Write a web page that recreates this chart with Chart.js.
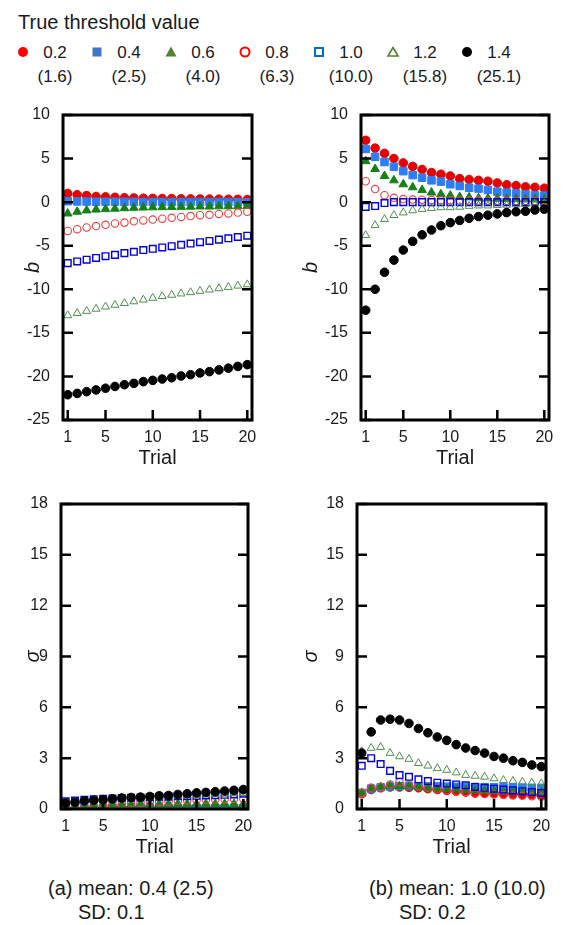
<!DOCTYPE html>
<html>
<head>
<meta charset="utf-8">
<script src="https://cdn.jsdelivr.net/npm/chart.js@4.4.1/dist/chart.umd.min.js"></script>
<style>
  body {
    margin: 0;
    width: 588px;
    height: 925px;
    background: #fff;
    position: relative;
    overflow: hidden;
    font-family: "Liberation Sans", Arial, sans-serif;
    color: #1a1a1a;
  }
  .panel { position: absolute; }
  .txt { position: absolute; white-space: nowrap; line-height: 1; }
  .leg { position: absolute; width: 60px; text-align: center; font-size: 17px; line-height: 1; }
  .mark { position: absolute; width: 14px; height: 14px; }
</style>
</head>
<body>

<div class="txt" style="left:18px;top:12px;font-size:20px;">True threshold value</div>
<div id="legend"></div>

<div class="panel" style="left:0;top:95px;"><canvas id="bA" width="290" height="380"></canvas></div>
<div class="panel" style="left:290px;top:95px;"><canvas id="bB" width="298" height="380"></canvas></div>
<div class="panel" style="left:0;top:484px;"><canvas id="sA" width="290" height="380"></canvas></div>
<div class="panel" style="left:290px;top:484px;"><canvas id="sB" width="298" height="380"></canvas></div>

<div class="txt" style="left:48px;top:878px;font-size:20px;">(a) mean: 0.4 (2.5)</div>
<div class="txt" style="left:78px;top:902px;font-size:20px;">SD: 0.1</div>
<div class="txt" style="left:369px;top:878px;font-size:20px;">(b) mean: 1.0 (10.0)</div>
<div class="txt" style="left:399px;top:902px;font-size:20px;">SD: 0.2</div>

<script>
// trials and legend labels
const trials = [1, 2, 3, 4, 5, 6, 7, 8, 9, 10, 11, 12, 13, 14, 15, 16, 17, 18, 19, 20];
const thresholds = ["0.2", "0.4", "0.6", "0.8", "1.0", "1.2", "1.4"];
const thresholdsLin = ["(1.6)", "(2.5)", "(4.0)", "(6.3)", "(10.0)", "(15.8)", "(25.1)"];
const xTicks = [1, 5, 10, 15, 20];

// (a) b estimates
const bA02 = [1.0, 0.85, 0.75, 0.65, 0.6, 0.55, 0.5, 0.48, 0.45, 0.43, 0.42, 0.4, 0.38, 0.37, 0.36, 0.35, 0.34, 0.33, 0.32, 0.3];
const bA04 = [0.1, 0.08, 0.07, 0.06, 0.05, 0.05, 0.04, 0.04, 0.03, 0.03, 0.03, 0.02, 0.02, 0.02, 0.02, 0.01, 0.01, 0.01, 0.0, 0.0];
const bA06 = [-1.3, -1.1, -0.95, -0.85, -0.8, -0.75, -0.7, -0.65, -0.62, -0.6, -0.58, -0.56, -0.54, -0.52, -0.5, -0.5, -0.48, -0.47, -0.46, -0.45];
const bA08 = [-3.3, -3.1, -2.9, -2.75, -2.6, -2.45, -2.35, -2.2, -2.1, -2.0, -1.9, -1.8, -1.7, -1.6, -1.5, -1.45, -1.35, -1.3, -1.2, -1.1];
const bA10 = [-7.0, -6.8, -6.6, -6.4, -6.2, -6.05, -5.85, -5.7, -5.5, -5.35, -5.2, -5.05, -4.9, -4.75, -4.6, -4.45, -4.3, -4.15, -4.0, -3.85];
const bA12 = [-13.0, -12.75, -12.5, -12.25, -12.0, -11.8, -11.6, -11.4, -11.2, -11.0, -10.8, -10.65, -10.5, -10.35, -10.2, -10.05, -9.9, -9.75, -9.6, -9.45];
const bA14 = [-22.1, -21.95, -21.75, -21.55, -21.35, -21.15, -20.95, -20.8, -20.6, -20.45, -20.3, -20.15, -19.95, -19.8, -19.6, -19.45, -19.25, -19.05, -18.85, -18.65];

// (b) b estimates
const bB02 = [7.1, 6.2, 5.6, 5.0, 4.5, 4.1, 3.75, 3.4, 3.2, 3.0, 2.7, 2.6, 2.5, 2.4, 2.2, 2.0, 1.9, 1.75, 1.7, 1.6];
const bB04 = [6.1, 5.2, 4.6, 4.05, 3.55, 3.1, 2.8, 2.5, 2.35, 2.05, 1.85, 1.65, 1.55, 1.4, 1.2, 1.1, 1.0, 0.9, 0.8, 0.75];
const bB06 = [4.7, 3.8, 3.0, 2.5, 2.05, 1.7, 1.4, 1.1, 0.9, 0.75, 0.6, 0.55, 0.45, 0.42, 0.4, 0.38, 0.35, 0.33, 0.32, 0.3];
const bB08 = [2.4, 1.5, 0.8, 0.5, 0.35, 0.3, 0.28, 0.25, 0.23, 0.22, 0.2, 0.19, 0.18, 0.17, 0.16, 0.15, 0.14, 0.13, 0.12, 0.1];
const bB10 = [-0.55, -0.45, -0.1, 0.0, 0.0, 0.0, 0.0, 0.0, 0.0, 0.0, 0.0, 0.0, 0.0, 0.0, 0.0, 0.0, 0.0, 0.0, 0.0, 0.0];
const bB12 = [-3.8, -2.65, -1.95, -1.5, -1.2, -0.95, -0.8, -0.7, -0.6, -0.6, -0.55, -0.45, -0.4, -0.4, -0.35, -0.32, -0.27, -0.24, -0.2, -0.15];
const bB14 = [-12.4, -10.0, -8.05, -6.65, -5.5, -4.5, -3.75, -3.2, -2.7, -2.35, -2.1, -1.85, -1.65, -1.5, -1.35, -1.2, -1.1, -1.05, -0.9, -0.8];

// (a) sigma estimates
const sA02 = [0.02, 0.02, 0.03, 0.03, 0.04, 0.04, 0.05, 0.05, 0.05, 0.05, 0.05, 0.05, 0.05, 0.05, 0.05, 0.05, 0.05, 0.05, 0.05, 0.05];
const sA04 = [0.05, 0.06, 0.06, 0.07, 0.07, 0.07, 0.07, 0.07, 0.07, 0.07, 0.07, 0.07, 0.07, 0.07, 0.07, 0.07, 0.07, 0.07, 0.07, 0.07];
const sA06 = [0.15, 0.18, 0.2, 0.22, 0.24, 0.26, 0.28, 0.28, 0.29, 0.29, 0.3, 0.3, 0.3, 0.3, 0.3, 0.3, 0.3, 0.3, 0.3, 0.3];
const sA08 = [0.05, 0.05, 0.1, 0.15, 0.2, 0.25, 0.3, 0.33, 0.36, 0.4, 0.42, 0.45, 0.48, 0.5, 0.52, 0.54, 0.56, 0.58, 0.6, 0.6];
const sA10 = [0.45, 0.5, 0.55, 0.58, 0.6, 0.62, 0.65, 0.66, 0.68, 0.7, 0.72, 0.73, 0.75, 0.76, 0.78, 0.8, 0.82, 0.84, 0.86, 0.9];
const sA12 = [0.4, 0.45, 0.5, 0.54, 0.57, 0.6, 0.63, 0.66, 0.68, 0.7, 0.73, 0.75, 0.78, 0.8, 0.83, 0.85, 0.87, 0.9, 0.92, 0.95];
const sA14 = [0.35, 0.4, 0.48, 0.52, 0.55, 0.6, 0.65, 0.68, 0.7, 0.74, 0.78, 0.8, 0.86, 0.9, 0.95, 0.98, 1.02, 1.06, 1.1, 1.15];

// (b) sigma estimates
const sB02 = [0.9, 1.15, 1.25, 1.3, 1.3, 1.28, 1.25, 1.2, 1.15, 1.1, 1.05, 1.0, 0.97, 0.94, 0.92, 0.9, 0.88, 0.86, 0.84, 0.82];
const sB04 = [0.95, 1.2, 1.28, 1.33, 1.35, 1.35, 1.35, 1.34, 1.33, 1.32, 1.31, 1.3, 1.3, 1.29, 1.28, 1.28, 1.27, 1.26, 1.25, 1.25];
const sB06 = [0.95, 1.2, 1.3, 1.35, 1.35, 1.33, 1.3, 1.25, 1.2, 1.17, 1.15, 1.12, 1.1, 1.08, 1.06, 1.04, 1.02, 1.0, 0.98, 0.96];
const sB08 = [0.95, 1.25, 1.3, 1.45, 1.6, 1.45, 1.35, 1.25, 1.2, 1.1, 1.05, 1.0, 0.9, 0.88, 0.86, 0.82, 0.8, 0.78, 0.75, 0.72];
const sB10 = [2.55, 3.0, 2.65, 2.25, 2.0, 1.9, 1.75, 1.65, 1.55, 1.5, 1.45, 1.4, 1.3, 1.25, 1.2, 1.15, 1.1, 1.05, 1.0, 0.95];
const sB12 = [3.4, 3.6, 3.65, 3.3, 3.1, 2.95, 2.7, 2.55, 2.4, 2.3, 2.15, 2.0, 1.95, 1.9, 1.8, 1.7, 1.65, 1.6, 1.55, 1.5];
const sB14 = [3.3, 4.55, 5.25, 5.3, 5.25, 5.05, 4.75, 4.5, 4.25, 4.05, 3.8, 3.6, 3.45, 3.3, 3.1, 3.0, 2.85, 2.75, 2.6, 2.5];

// marker look for each threshold
const styles = ["circle", "rect", "triangle", "circle", "rect", "triangle", "circle"];
const filled = [true, true, true, false, false, false, true];
const plotColors = ["#e60000", "#2f7df2", "#168016", "#f03c3c", "#0000e0", "#4e8f4e", "#000000"];
const legendColors = ["#ff0000", "#4472c4", "#548235", "#ff0000", "#0070c0", "#548235", "#000000"];
const radii = [4.3, 5.3, 5, 3.7, 4.7, 4.6, 4.3];
const borders = [1, 1, 1, 1.1, 1.4, 1, 1];

Chart.defaults.font.family = "'Liberation Sans', Arial, sans-serif";
Chart.defaults.color = "#1a1a1a";

// legend (html)
const legend = document.getElementById("legend");
thresholds.forEach((t, i) => {
  const mx = 23 + i * 74;
  const c = legendColors[i];
  let shape;
  if (styles[i] === "circle") {
    shape = filled[i] ? `<circle cx="7" cy="7" r="5" fill="${c}"/>` : `<circle cx="7" cy="7" r="4.5" fill="none" stroke="${c}" stroke-width="2"/>`;
  } else if (styles[i] === "rect") {
    shape = filled[i] ? `<rect x="2.5" y="2.5" width="9" height="9" fill="${c}"/>` : `<rect x="3" y="3" width="8" height="8" fill="none" stroke="${c}" stroke-width="2"/>`;
  } else {
    shape = filled[i] ? `<polygon points="7,1.5 12.5,11.5 1.5,11.5" fill="${c}"/>` : `<polygon points="7,2.5 12,11 2,11" fill="none" stroke="${c}" stroke-width="1.6"/>`;
  }
  legend.insertAdjacentHTML("beforeend",
    `<svg class="mark" style="left:${mx - 7}px;top:45px" viewBox="0 0 14 14">${shape}</svg>` +
    `<div class="leg" style="left:${mx + 2}px;top:44px">${t}</div>` +
    `<div class="leg" style="left:${mx + 2}px;top:68px">${thresholdsLin[i]}</div>`);
});

// frame with inward tick marks
const framePlugin = {
  id: "frame",
  afterDatasetsDraw(chart) {
    const { ctx, chartArea: a, scales: { x, y } } = chart;
    ctx.save();
    ctx.strokeStyle = "#000";
    ctx.lineWidth = 3;
    ctx.strokeRect(a.left, a.top, a.right - a.left, a.bottom - a.top);
    ctx.lineWidth = 2.5;
    ctx.beginPath();
    y.ticks.forEach(t => {
      const py = y.getPixelForValue(t.value);
      ctx.moveTo(a.left, py); ctx.lineTo(a.left + 10, py);
      ctx.moveTo(a.right, py); ctx.lineTo(a.right - 10, py);
    });
    x.ticks.forEach(t => {
      const px = x.getPixelForValue(t.value);
      ctx.moveTo(px, a.bottom); ctx.lineTo(px, a.bottom - 10);
    });
    ctx.stroke();
    ctx.restore();
  }
};

function makeDatasets(series) {
  return series.map((vals, i) => ({
    label: thresholds[i],
    data: vals.map((v, j) => ({ x: trials[j], y: v })),
    pointStyle: styles[i],
    pointRadius: radii[i],
    pointHoverRadius: radii[i],
    backgroundColor: filled[i] ? plotColors[i] : "rgba(0,0,0,0)",
    borderColor: plotColors[i],
    borderWidth: borders[i],
    showLine: false,
    order: 6 - i
  }));
}

function makeChart(id, series, yMin, yMax, yStep, yTitle, yWidth, titlePad, padRight) {
  return new Chart(document.getElementById(id), {
    type: "scatter",
    data: { datasets: makeDatasets(series) },
    options: {
      responsive: false,
      animation: false,
      layout: { padding: { top: 20, right: padRight, left: 0, bottom: 0 } },
      plugins: { legend: { display: false }, tooltip: { enabled: false } },
      scales: {
        x: {
          type: "linear",
          min: 0.5,
          max: 20.5,
          grid: { display: false },
          border: { display: false },
          afterBuildTicks: s => { s.ticks = xTicks.map(v => ({ value: v })); },
          afterFit: s => { s.height = 55; },
          ticks: { font: { size: 16 }, padding: 0, color: "#1a1a1a" },
          title: { display: true, text: "Trial", font: { size: 20 }, padding: { top: 0, bottom: 5 }, color: "#1a1a1a" }
        },
        y: {
          min: yMin,
          max: yMax,
          grid: { display: false },
          border: { display: false },
          afterFit: s => { s.width = yWidth; },
          ticks: { stepSize: yStep, font: { size: 16 }, padding: 5, color: "#1a1a1a" },
          title: { display: true, text: yTitle, font: { size: 20, style: "italic" }, padding: { top: titlePad, bottom: 0 }, color: "#1a1a1a" }
        }
      }
    },
    plugins: [framePlugin]
  });
}

makeChart("bA", [bA02, bA04, bA06, bA08, bA10, bA12, bA14], -25, 10, 5, "b", 63, 21, 38);
makeChart("bB", [bB02, bB04, bB06, bB08, bB10, bB12, bB14], -25, 10, 5, "b", 71, 9, 39);
makeChart("sA", [sA02, sA04, sA06, sA08, sA10, sA12, sA14], 0, 18, 3, "σ", 61, 21, 42);
makeChart("sB", [sB02, sB04, sB06, sB08, sB10, sB12, sB14], 0, 18, 3, "σ", 67, 9, 42);
</script>
</body>
</html>
